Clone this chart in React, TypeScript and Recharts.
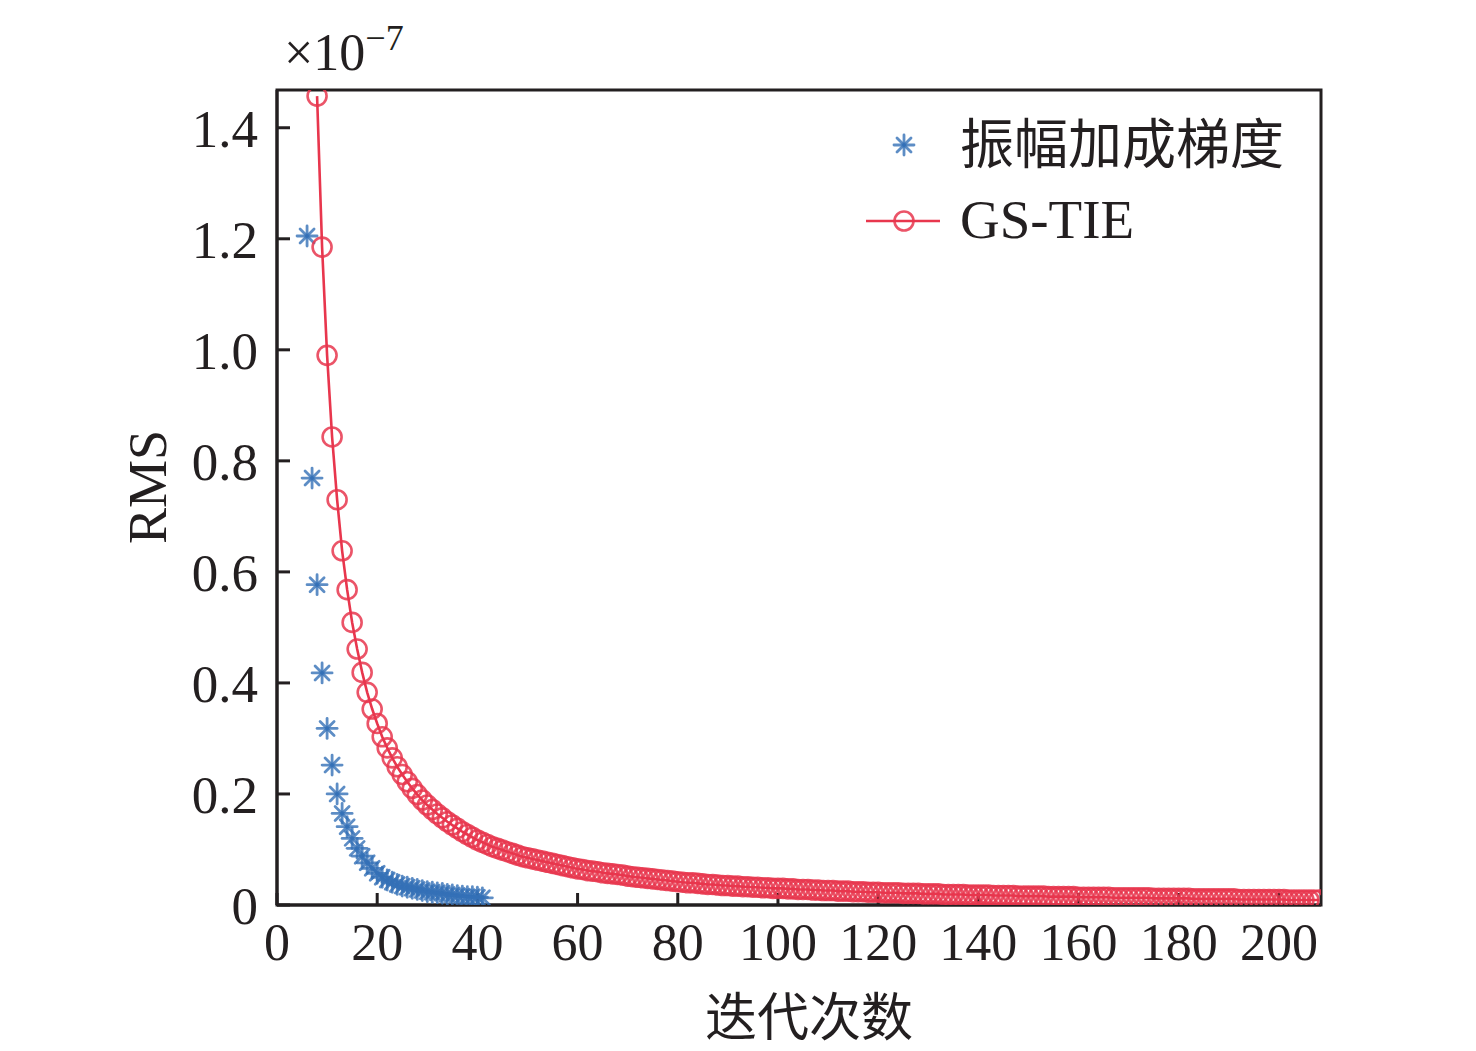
import { ScatterChart, Scatter, XAxis, YAxis, Legend, Label, ReferenceArea } from 'recharts';

// iteration numbers where each series starts (one point per iteration)
const ampFirstIter = 6;
const gsFirstIter = 8;

// RMS values, units of 1e-7
const ampGradRms = [
  1.205, 0.769, 0.577, 0.418, 0.318, 0.252, 0.200, 0.165, 0.141, 0.120,
  0.102, 0.088, 0.076, 0.066, 0.057, 0.050, 0.045, 0.041, 0.037, 0.034,
  0.032, 0.030, 0.028, 0.026, 0.024, 0.023, 0.022, 0.021, 0.019, 0.018,
  0.017, 0.016, 0.015, 0.015, 0.014, 0.013,
];

const gsTieRms = [
  1.457, 1.185, 0.990, 0.843, 0.730, 0.638, 0.568, 0.509, 0.461, 0.419, 0.383, 0.353, 0.327,
  0.303, 0.283, 0.265, 0.249, 0.235, 0.222, 0.210, 0.199, 0.189, 0.180,
  0.172, 0.164, 0.157, 0.150, 0.144, 0.138, 0.132, 0.127, 0.122, 0.117,
  0.113, 0.109, 0.105, 0.102, 0.099, 0.096, 0.093, 0.090, 0.087, 0.085,
  0.083, 0.081, 0.079, 0.077, 0.075, 0.073, 0.071, 0.069, 0.067, 0.065,
  0.064, 0.062, 0.061, 0.060, 0.058, 0.057, 0.056, 0.055, 0.054, 0.052,
  0.051, 0.050, 0.049, 0.048, 0.047, 0.046, 0.045, 0.044, 0.043, 0.042,
  0.041, 0.040, 0.040, 0.039, 0.038, 0.037, 0.037, 0.036, 0.035, 0.035,
  0.034, 0.034, 0.033, 0.033, 0.032, 0.032, 0.031, 0.031, 0.030, 0.030,
  0.030, 0.029, 0.029, 0.028, 0.028, 0.028, 0.027, 0.027, 0.026, 0.026,
  0.026, 0.025, 0.025, 0.025, 0.024, 0.024, 0.024, 0.023, 0.023, 0.023,
  0.022, 0.022, 0.022, 0.022, 0.021, 0.021, 0.021, 0.021, 0.020, 0.020,
  0.020, 0.020, 0.019, 0.019, 0.019, 0.019, 0.019, 0.018, 0.018, 0.018,
  0.018, 0.018, 0.017, 0.017, 0.017, 0.017, 0.017, 0.016, 0.016, 0.016,
  0.016, 0.016, 0.016, 0.015, 0.015, 0.015, 0.015, 0.015, 0.015, 0.014,
  0.014, 0.014, 0.014, 0.014, 0.014, 0.014, 0.013, 0.013, 0.013, 0.013,
  0.013, 0.013, 0.013, 0.013, 0.012, 0.012, 0.012, 0.012, 0.012, 0.012,
  0.012, 0.012, 0.011, 0.011, 0.011, 0.011, 0.011, 0.011, 0.011, 0.011,
  0.011, 0.010, 0.010, 0.010, 0.010, 0.010, 0.010, 0.010, 0.010, 0.010,
  0.010, 0.009, 0.009, 0.009, 0.009, 0.009, 0.009, 0.009,
];

const xTicks = [0, 20, 40, 60, 80, 100, 120, 140, 160, 180, 200];
const yTicks = [0, 0.2, 0.4, 0.6, 0.8, 1.0, 1.2, 1.4];

const ampData = ampGradRms.map((y, i) => ({ x: ampFirstIter + i, y }));
const gsData = gsTieRms.map((y, i) => ({ x: gsFirstIter + i, y }));

const X_MAX = 208.4;
const Y_MAX = 1.468;

const BLUE = '#3570b6';
const RED = '#e8364d';
const INK = '#231f20';
const SERIF = '"Liberation Serif", "Times New Roman", "Noto Sans CJK SC", serif';
const CJK = '"Noto Sans CJK SC", "Liberation Serif", serif';

function Asterisk({ cx, cy }: { cx?: number; cy?: number }) {
  if (cx == null || cy == null) return null;
  const a = 10;
  const d = 7;
  return (
    <g stroke={BLUE} strokeWidth={2.8} strokeOpacity={0.8} strokeLinecap="round">
      <line x1={cx - a} y1={cy} x2={cx + a} y2={cy} />
      <line x1={cx} y1={cy - a} x2={cx} y2={cy + a} />
      <line x1={cx - d} y1={cy - d} x2={cx + d} y2={cy + d} />
      <line x1={cx - d} y1={cy + d} x2={cx + d} y2={cy - d} />
    </g>
  );
}

function RingDot({ cx, cy }: { cx?: number; cy?: number }) {
  if (cx == null || cy == null) return null;
  return <circle cx={cx} cy={cy} r={9.5} fill="none" stroke={RED} strokeWidth={2.6} strokeOpacity={0.85} />;
}

function LegendBox() {
  return (
    <svg width={460} height={160}>
      <Asterisk cx={44} cy={45} />
      <text x={100} y={64} fontFamily={CJK} fontSize={54} fill={INK}>振幅加成梯度</text>
      <line x1={6} y1={121} x2={80} y2={121} stroke={RED} strokeWidth={2.6} />
      <RingDot cx={44} cy={121} />
      <text x={100} y={138} fontFamily={SERIF} fontSize={55} fill={INK}>GS-TIE</text>
    </svg>
  );
}

export default function App() {
  return (
    <div style={{ position: 'absolute', left: 0, top: 0, width: 1476, height: 1051, background: '#fff', overflow: 'hidden' }}>
      <ScatterChart width={1476} height={1051} margin={{ top: 90, right: 155, bottom: 0, left: 0 }}>
        <XAxis
          type="number"
          dataKey="x"
          domain={[0, X_MAX]}
          ticks={xTicks}
          height={146}
          tickSize={-12}
          tickMargin={30}
          axisLine={{ stroke: INK, strokeWidth: 3 }}
          tickLine={{ stroke: INK, strokeWidth: 3 }}
          tick={{ fill: INK, fontSize: 52, fontFamily: SERIF }}
          allowDataOverflow
        >
          <Label value="迭代次数" position="insideBottom" offset={15} dx={10} fill={INK} fontSize={52} fontFamily={CJK} />
        </XAxis>
        <YAxis
          type="number"
          dataKey="y"
          domain={[0, Y_MAX]}
          ticks={yTicks}
          width={277}
          tickSize={-13}
          tickMargin={32}
          tickFormatter={(v: number) => (v === 0 ? '0' : v.toFixed(1))}
          axisLine={{ stroke: INK, strokeWidth: 3 }}
          tickLine={{ stroke: INK, strokeWidth: 3 }}
          tick={{ fill: INK, fontSize: 53, fontFamily: SERIF }}
          allowDataOverflow
        >
          <Label
            content={() => (
              <text
                x={148}
                y={487}
                transform="rotate(-90 148 487)"
                textAnchor="middle"
                dominantBaseline="central"
                fill={INK}
                fontSize={54}
                fontFamily={SERIF}
              >
                RMS
              </text>
            )}
          />
          <Label
            content={() => (
              <text x={284} y={70} fill={INK} fontFamily={SERIF}>
                <tspan fontSize={52}>×10</tspan>
                <tspan fontSize={36} dy={-20}>−7</tspan>
              </text>
            )}
          />
        </YAxis>
        <ReferenceArea
          x1={0}
          x2={X_MAX}
          y1={0}
          y2={Y_MAX}
          fill="none"
          fillOpacity={0}
          stroke={INK}
          strokeWidth={3}
          strokeOpacity={1}
          ifOverflow="visible"
        />
        <Legend
          layout="horizontal"
          verticalAlign="middle"
          align="center"
          wrapperStyle={{ position: 'absolute', left: 860, top: 100, width: 460, height: 160 }}
          content={() => <LegendBox />}
        />
        <Scatter name="振幅加成梯度" data={ampData} shape={Asterisk} isAnimationActive={false} />
        <Scatter
          name="GS-TIE"
          data={gsData}
          shape={RingDot}
          line={{ stroke: RED, strokeWidth: 2.6 }}
          lineType="joint"
          isAnimationActive={false}
        />
      </ScatterChart>
    </div>
  );
}
